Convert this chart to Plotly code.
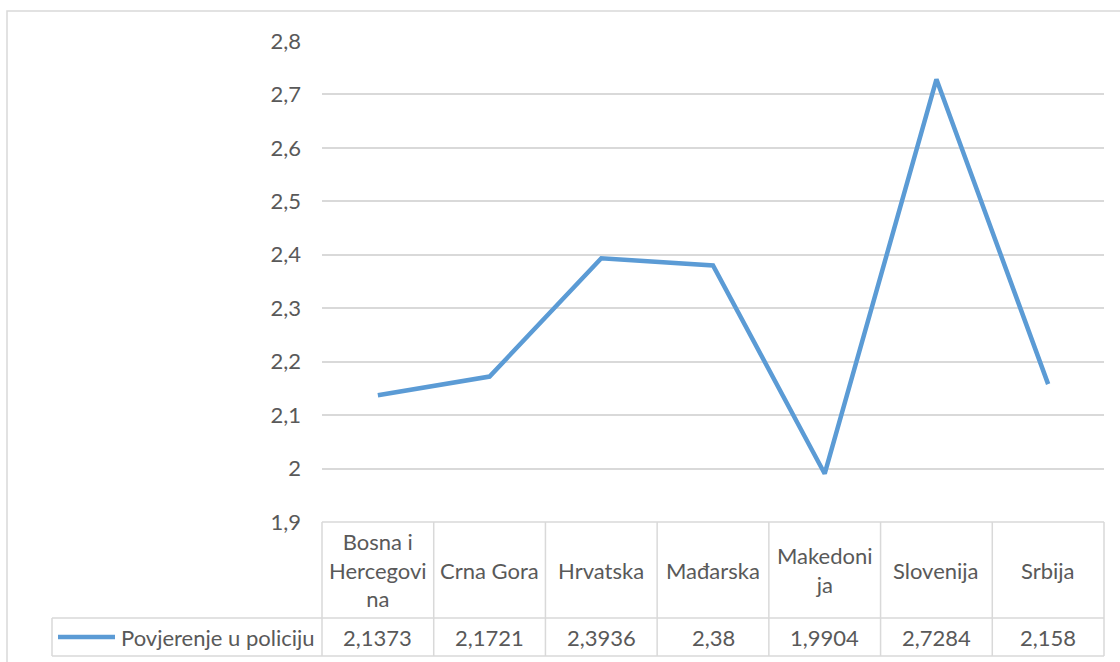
import plotly.graph_objects as go

# ---------------- data ----------------
categories = ["Bosna i Hercegovina", "Crna Gora", "Hrvatska", "Mađarska",
              "Makedonija", "Slovenija", "Srbija"]
header_labels = ["Bosna i<br>Hercegovi<br>na", "Crna Gora", "Hrvatska", "Mađarska",
                 "Makedoni<br>ja", "Slovenija", "Srbija"]
series_name = "Povjerenje u policiju"
values = [2.1373, 2.1721, 2.3936, 2.38, 1.9904, 2.7284, 2.158]
y_ticks = [1.9, 2.0, 2.1, 2.2, 2.3, 2.4, 2.5, 2.6, 2.7, 2.8]
y_tick_labels = ["1,9", "2", "2,1", "2,2", "2,3", "2,4", "2,5", "2,6", "2,7", "2,8"]

# ---------------- layout constants (pixels) ----------------
W, H = 1120, 662
PL, PR, PT, PB = 322, 1104, 41, 522
HEADER_BOTTOM = 618
TABLE_BOTTOM = 656
TABLE_LEFT = 52
FRAME_LEFT, FRAME_TOP = 7, 11
GRID = "#d9d9d9"
TEXT = "#595959"
BLUE = "#5b9bd5"
FONT = "Lato"
FS = 22


def px2x(p):
    return (p - PL) / (PR - PL)


def px2y(p):
    return (PB - p) / (PB - PT)


fig = go.Figure()
fig.add_trace(go.Scatter(x=categories, y=values, mode="lines",
                         line=dict(color=BLUE, width=4.5),
                         name=series_name, showlegend=False,
                         hoverinfo="x+y"))

shapes = []
line_style = dict(color=GRID, width=1.5)
# chart frame
shapes.append(dict(type="rect", xref="paper", yref="paper",
                   x0=px2x(FRAME_LEFT), x1=px2x(W + 20),
                   y0=px2y(FRAME_TOP), y1=px2y(H + 20),
                   line=line_style, layer="below"))
# table horizontal lines
shapes.append(dict(type="line", xref="paper", yref="paper",
                   x0=0, x1=1, y0=0, y1=0, line=line_style))
for yy in (HEADER_BOTTOM, TABLE_BOTTOM):
    shapes.append(dict(type="line", xref="paper", yref="paper",
                       x0=px2x(TABLE_LEFT), x1=1, y0=px2y(yy), y1=px2y(yy),
                       line=line_style))
# table vertical lines (column boundaries of category axis)
n = len(categories)
for k in range(n + 1):
    shapes.append(dict(type="line", xref="paper", yref="paper",
                       x0=k / n, x1=k / n, y0=0, y1=px2y(TABLE_BOTTOM),
                       line=line_style))
shapes.append(dict(type="line", xref="paper", yref="paper",
                   x0=px2x(TABLE_LEFT), x1=px2x(TABLE_LEFT),
                   y0=px2y(HEADER_BOTTOM), y1=px2y(TABLE_BOTTOM),
                   line=line_style))
# legend key line
row_mid = (HEADER_BOTTOM + TABLE_BOTTOM) / 2
shapes.append(dict(type="line", xref="paper", yref="paper",
                   x0=px2x(TABLE_LEFT + 6), x1=px2x(TABLE_LEFT + 63),
                   y0=px2y(row_mid), y1=px2y(row_mid),
                   line=dict(color=BLUE, width=4.5)))

annotations = []
head_mid = (PB + HEADER_BOTTOM) / 2
for cat, lab, v in zip(categories, header_labels, values):
    annotations.append(dict(x=cat, xref="x", y=px2y(head_mid), yref="paper",
                            text=lab, showarrow=False, yanchor="middle",
                            font=dict(family=FONT, size=FS, color=TEXT)))
    annotations.append(dict(x=cat, xref="x", y=px2y(row_mid), yref="paper",
                            text=f"{v:g}".replace(".", ","), showarrow=False,
                            yanchor="middle",
                            font=dict(family=FONT, size=FS, color=TEXT)))
annotations.append(dict(x=px2x(PL - 5), xref="paper", y=px2y(row_mid), yref="paper",
                        text=series_name, showarrow=False, xanchor="right",
                        yanchor="middle",
                        font=dict(family=FONT, size=FS, color=TEXT)))

fig.update_layout(
    width=W, height=H,
    margin=dict(l=PL, r=W - PR, t=PT, b=H - PB, pad=0),
    paper_bgcolor="white", plot_bgcolor="white",
    showlegend=False,
    shapes=shapes, annotations=annotations,
    font=dict(family=FONT, size=FS, color=TEXT),
    xaxis=dict(type="category", range=[-0.5, n - 0.5], showticklabels=False,
               showgrid=False, zeroline=False, showline=False, ticks=""),
    yaxis=dict(range=[1.9, 2.8], tickvals=y_ticks, ticktext=y_tick_labels,
               showgrid=True, gridcolor=GRID, gridwidth=1.5, zeroline=False,
               showline=False, ticks="", ticklabelstandoff=20,
               tickfont=dict(family=FONT, size=FS, color=TEXT)),
)

fig.write_html("out.html", config={"displayModeBar": False},
               post_script="document.body.style.margin='0';document.body.style.overflow='hidden';")
